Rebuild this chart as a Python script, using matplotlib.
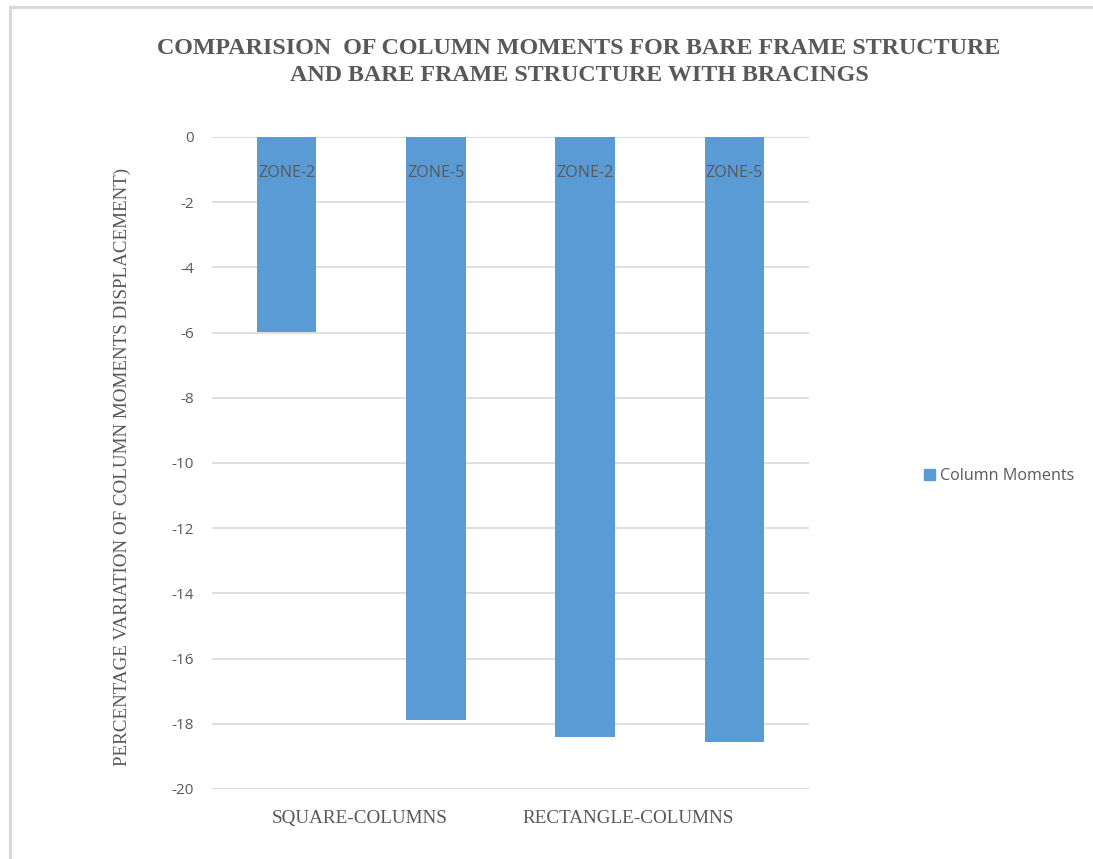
import matplotlib
matplotlib.use("Agg")
import matplotlib.pyplot as plt
from matplotlib.patches import Rectangle
from matplotlib.lines import Line2D

# Data
zones = ["ZONE-2", "ZONE-5", "ZONE-2", "ZONE-5"]
groups = ["SQUARE-COLUMNS", "RECTANGLE-COLUMNS"]
column_moments = [-5.98, -17.88, -18.42, -18.56]
y_ticks = [0, -2, -4, -6, -8, -10, -12, -14, -16, -18, -20]

BAR = "#5b9bd5"
TXT = "#595959"
GRID = "#d9d9d9"
SANS = ["Open Sans", "DejaVu Sans"]
SERIF = ["Liberation Serif", "DejaVu Serif"]

fig = plt.figure(figsize=(10.93, 8.59), dpi=100)
fig.patch.set_facecolor("white")

# light frame around the chart area (top and left edges)
fig.add_artist(Line2D([9.5 / 1093, 1.0], [1 - 6.5 / 859] * 2,
                      transform=fig.transFigure, color="#d9d9d9", lw=2.2))
fig.add_artist(Line2D([9.5 / 1093] * 2, [0.0, 1 - 6.5 / 859],
                      transform=fig.transFigure, color="#d9d9d9", lw=2.2))

ax = fig.add_axes([212 / 1093, 1 - 789 / 859, (809 - 212) / 1093, (789 - 137) / 859])
x = list(range(len(column_moments)))
ax.bar(x, column_moments, width=0.4, color=BAR, zorder=3, label="Column Moments")

ax.set_xlim(-0.5, 3.5)
ax.set_ylim(-20, 0)
ax.set_yticks(y_ticks)
ax.set_yticklabels([str(v) for v in y_ticks], fontfamily=SANS, fontsize=11, color=TXT)
ax.tick_params(axis="y", length=0, pad=13)
ax.set_xticks([])
ax.grid(axis="y", color=GRID, lw=1.2, zorder=0)
ax.set_axisbelow(True)
for s in ax.spines.values():
    s.set_visible(False)
ax.axhline(0, color=GRID, lw=1.2, zorder=1)
ax.axhline(-20, color=GRID, lw=1.2, zorder=1)

# inner category labels sit just below the zero line
for xi, z in zip(x, zones):
    ax.text(xi, -1.1, z, ha="center", va="center", fontfamily=SANS,
            fontsize=11.6, color=TXT, zorder=4)

# outer category labels
group_x = [0.49, 2.29]
for gx, g in zip(group_x, groups):
    ax.text(gx, -20.9, g, ha="center", va="center", fontfamily=SERIF,
            fontsize=13.8, color=TXT, clip_on=False)

ax.set_ylabel("PERCENTAGE VARIATION OF COLUMN MOMENTS DISPLACEMENT)",
              fontfamily=SERIF, fontsize=13.7, color=TXT)
ax.yaxis.set_label_coords(-0.136, 0.494)

fig.text(579 / 1093, 1 - 62 / 859,
         "COMPARISION  OF COLUMN MOMENTS FOR BARE FRAME STRUCTURE\nAND BARE FRAME STRUCTURE WITH BRACINGS",
         ha="center", va="center", fontfamily=SERIF, fontweight="bold",
         fontsize=17.3, color=TXT, linespacing=1.33)

fig.legend(handles=[Rectangle((0, 0), 1, 1, color=BAR)], labels=["Column Moments"],
           loc="center left", bbox_to_anchor=(909 / 1093, 1 - 476 / 859),
           frameon=False, handlelength=0.7, handleheight=0.7, handletextpad=0.35,
           prop={"family": SANS, "size": 11.6}, labelcolor=TXT)

fig.savefig("out.png", dpi=100, facecolor="white")
